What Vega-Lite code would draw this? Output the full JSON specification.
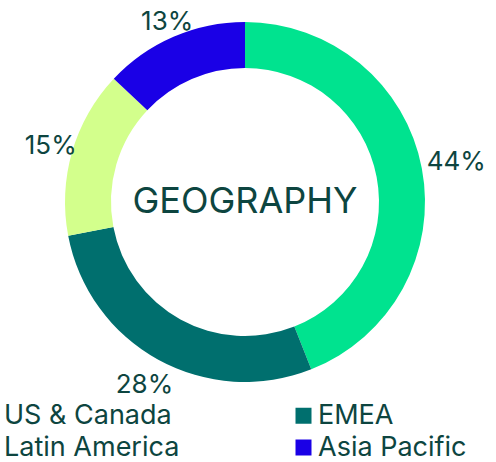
{
  "$schema": "https://vega.github.io/schema/vega-lite/v6.json",
  "width": 490,
  "height": 404,
  "autosize": "none",
  "padding": {"left": 0, "top": 0, "right": 6, "bottom": 58},
  "background": "white",
  "config": {"view": {"stroke": null}, "font": "Inter"},
  "data": {"values": [
    {"region": "US & Canada", "value": 44, "label": "44%", "order": 1},
    {"region": "EMEA", "value": 28, "label": "28%", "order": 2},
    {"region": "Latin America", "value": 15, "label": "15%", "order": 3},
    {"region": "Asia Pacific", "value": 13, "label": "13%", "order": 4}
  ]},
  "layer": [
    {
      "mark": {"type": "arc", "outerRadius": 180, "innerRadius": 134},
      "encoding": {
        "theta": {"field": "value", "type": "quantitative", "stack": true},
        "order": {"field": "order", "type": "quantitative"},
        "color": {
          "field": "region", "type": "nominal",
          "scale": {"domain": ["US & Canada", "Latin America", "EMEA", "Asia Pacific"],
                    "range": ["#00E38F", "#D3FF8C", "#006F6E", "#1A00E6"]},
          "legend": {
            "title": null, "orient": "none", "legendX": -24, "legendY": 402,
            "columns": 2, "columnPadding": 110, "rowPadding": 4,
            "symbolType": "square", "symbolSize": 256, "symbolStrokeWidth": 0, "symbolOpacity": 1,
            "labelFontSize": 27, "labelColor": "#0D4540", "labelOffset": 1, "labelFont": "Inter", "labelLimit": 400
          }
        }
      }
    },
    {
      "transform": [
        {"stack": "value", "groupby": [], "sort": [{"field": "order", "order": "ascending"}], "as": ["s0", "s1"]},
        {"calculate": "(datum.s0 + datum.s1) / 2", "as": "mid"}
      ],
      "mark": {"type": "text", "fontSize": 26, "color": "#0D4540", "font": "Inter"},
      "encoding": {
        "theta": {"field": "mid", "type": "quantitative", "stack": null},
        "text": {"field": "label", "type": "nominal"},
        "radius": {"field": "region", "type": "nominal",
                   "scale": {"type": "ordinal", "domain": ["US & Canada", "EMEA", "Latin America", "Asia Pacific"],
                             "range": [215, 196, 222, 194]}}
      }
    },
    {
      "data": {"values": [{"title": "GEOGRAPHY"}]},
      "mark": {"type": "text", "fontSize": 36, "color": "#0D4540", "font": "Inter"},
      "encoding": {"text": {"field": "title", "type": "nominal"}}
    }
  ]
}
